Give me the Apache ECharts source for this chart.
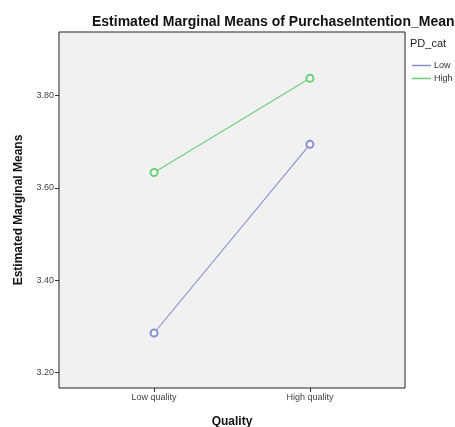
<!DOCTYPE html>
<html><head><meta charset="utf-8">
<script src="https://cdn.jsdelivr.net/npm/echarts@6/dist/echarts.min.js"></script>
<style>html,body{margin:0;padding:0;background:#fff}#c{width:455px;height:427px}</style>
</head><body><div id="c"></div>
<script>
const categories = ['Low quality', 'High quality'];
const seriesNames = ['Low', 'High'];
const lowValues = [3.286, 3.694];
const highValues = [3.633, 3.837];
const yTicks = [3.2, 3.4, 3.6, 3.8];

const chart = echarts.init(document.getElementById('c'));
const ff = 'Liberation Sans';
chart.setOption({
  animation: false,
  backgroundColor: '#fff',
  title: {
    text: 'Estimated Marginal Means of PurchaseIntention_Mean',
    left: 87, top: 10,
    textStyle: {fontFamily: ff, fontSize: 14, fontWeight: 'bold', color: '#111'}
  },
  graphic: [{type: 'text', left: 410, top: 38, style: {text: 'PD_cat', font: '11px ' + ff, fill: '#222'}}],
  legend: {
    orient: 'vertical', left: 407, top: 56, itemGap: 4, itemWidth: 19, itemHeight: 1.5,
    icon: 'rect', data: seriesNames,
    textStyle: {fontFamily: ff, fontSize: 9, color: '#333', padding: [0, 0, 0, -2]}
  },
  grid: {left: 59, right: 50, top: 32, bottom: 39, outerBoundsMode: 'none', containLabel: false,
         show: true, backgroundColor: '#f1f1f1', borderColor: '#222', borderWidth: 1},
  xAxis: {
    type: 'value', min: -0.61, max: 1.61,
    name: 'Quality', nameLocation: 'middle', nameGap: 28,
    nameTextStyle: {fontFamily: ff, fontSize: 12, fontWeight: 'bold', color: '#111'},
    axisLine: {show: false, onZero: false},
    splitLine: {show: false},
    axisTick: {show: true, customValues: [0, 1], length: 4, lineStyle: {color: '#333'}},
    axisLabel: {customValues: [0, 1], formatter: v => categories[Math.round(v)], fontFamily: ff, fontSize: 9, color: '#444', margin: 5}
  },
  yAxis: {
    type: 'value', min: 3.167, max: 3.937,
    name: 'Estimated Marginal Means', nameLocation: 'middle', nameGap: 34,
    nameTextStyle: {fontFamily: ff, fontSize: 12, fontWeight: 'bold', color: '#111'},
    axisLine: {show: false, onZero: false},
    splitLine: {show: false},
    axisTick: {show: true, customValues: yTicks, length: 4, lineStyle: {color: '#333'}},
    axisLabel: {customValues: yTicks, formatter: v => v.toFixed(2), fontFamily: ff, fontSize: 9, color: '#444', margin: 5}
  },
  series: [
    {name: seriesNames[0], type: 'line', data: lowValues.map((v, i) => [i, v]), color: '#8590d0',
     symbol: 'emptyCircle', symbolSize: 7, lineStyle: {width: 1.1}, itemStyle: {borderWidth: 0.9}},
    {name: seriesNames[1], type: 'line', data: highValues.map((v, i) => [i, v]), color: '#6ccf78',
     symbol: 'emptyCircle', symbolSize: 7, lineStyle: {width: 1.1}, itemStyle: {borderWidth: 0.9}}
  ]
});
</script></body></html>
